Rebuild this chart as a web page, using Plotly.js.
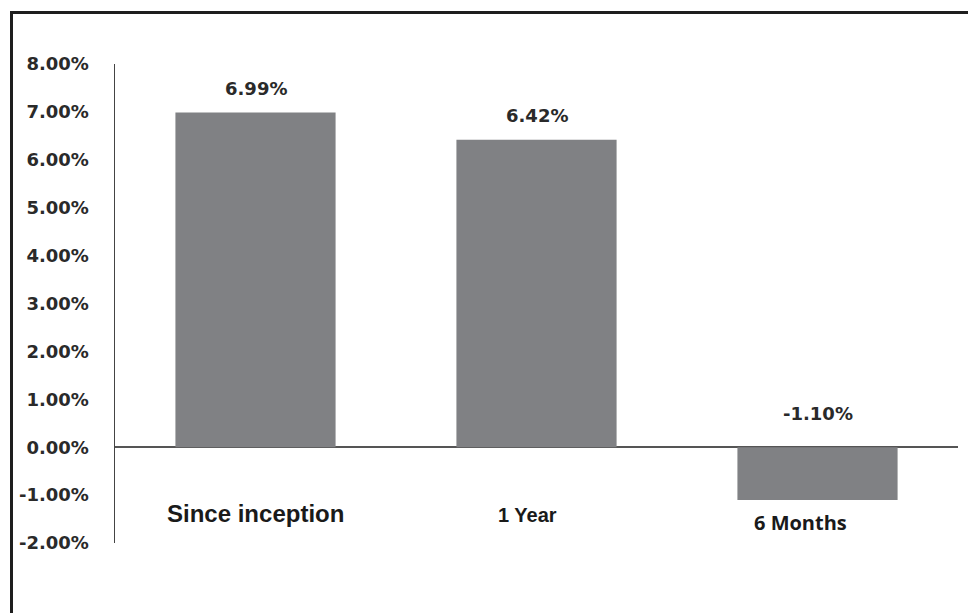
<!DOCTYPE html>
<html>
<head>
<meta charset="utf-8">
<script src="https://cdn.plot.ly/plotly-3.0.1.min.js"></script>
<style>
  html, body { margin: 0; padding: 0; background: #ffffff; }
  #frame { position: absolute; left: 10px; top: 11px; width: 958px; height: 602px;
           border-top: 3px solid #1e1e1e; border-left: 3px solid #1e1e1e; box-sizing: border-box; }
  #chart { position: absolute; left: 0; top: 0; width: 968px; height: 613px; }
</style>
</head>
<body>
<div id="frame"></div>
<div id="chart"></div>
<script>
const categories = ["Since inception", "1 Year", "6 Months"];
const returns = [6.99, 6.42, -1.10];
const valueLabels = ["6.99%", "6.42%", "-1.10%"];
const tickValues = [-2, -1, 0, 1, 2, 3, 4, 5, 6, 7, 8];
const tickLabels = ["-2.00%", "-1.00%", "0.00%", "1.00%", "2.00%", "3.00%", "4.00%", "5.00%", "6.00%", "7.00%", "8.00%"];

const catFonts = [
  {family: "Liberation Sans, Arial, sans-serif", size: 24, weight: "bold", color: "#1a1a1a"},
  {family: "Liberation Sans, Arial, sans-serif", size: 20, weight: "bold", color: "#1a1a1a"},
  {family: "Open Sans, sans-serif", size: 20, weight: "bold", color: "#1a1a1a"}
];
const catShift = [-66, -68, -75];
const catXShift = [0, -9, -17];

const valueFont = {family: "DejaVu Sans, sans-serif", size: 18, weight: "bold", color: "#2a2a2a"};

const annotations = [];
returns.forEach((v, i) => {
  annotations.push({
    x: categories[i], y: Math.max(v, 0), xref: "x", yref: "y",
    text: valueLabels[i], showarrow: false, yanchor: "middle",
    yshift: v >= 0 ? 24 : 34,
    font: valueFont
  });
  annotations.push({
    x: categories[i], y: 0, xref: "x", yref: "y",
    text: categories[i], showarrow: false, yanchor: "middle",
    yshift: catShift[i], xshift: catXShift[i], font: catFonts[i]
  });
});

const data = [{
  type: "bar",
  x: categories,
  y: returns,
  marker: {color: "#808184"},
  width: 0.57,
  hoverinfo: "skip"
}];

const layout = {
  width: 968, height: 613,
  margin: {l: 115, r: 10, t: 64, b: 70},
  paper_bgcolor: "rgba(0,0,0,0)",
  plot_bgcolor: "rgba(0,0,0,0)",
  showlegend: false,
  xaxis: {
    type: "category",
    showticklabels: false, showgrid: false, zeroline: false, showline: false, ticks: ""
  },
  yaxis: {
    range: [-2, 8],
    tickvals: tickValues, ticktext: tickLabels,
    showgrid: false,
    zeroline: true, zerolinecolor: "#555555", zerolinewidth: 2,
    showline: true, linecolor: "#444444", linewidth: 1.5,
    ticks: "", ticklabelstandoff: 21,
    tickfont: valueFont
  },
  annotations: annotations
};

Plotly.newPlot("chart", data, layout, {displayModeBar: false, staticPlot: true});
</script>
</body>
</html>
